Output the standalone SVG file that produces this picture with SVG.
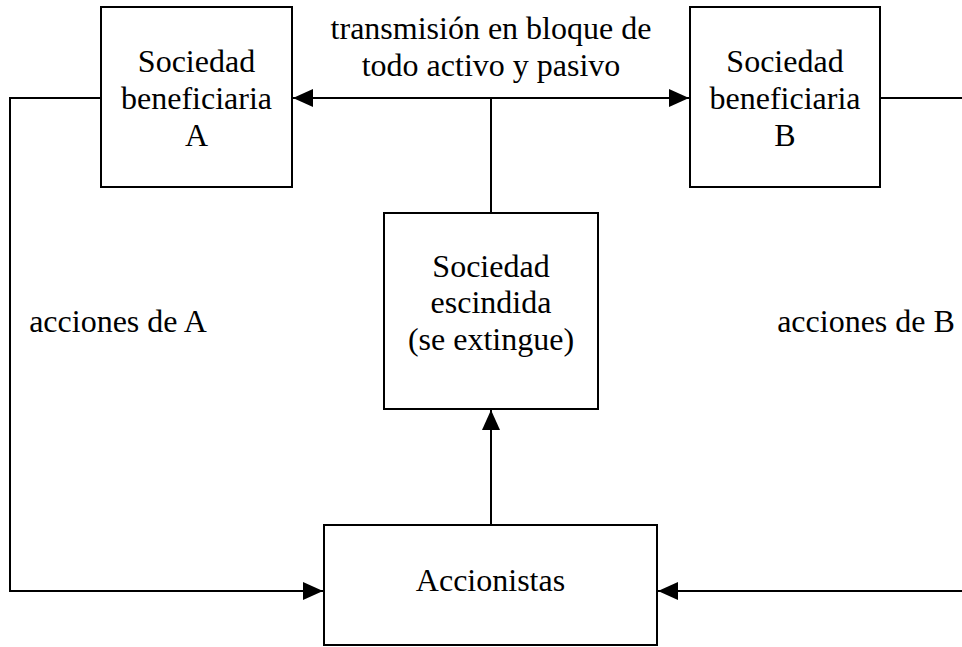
<svg xmlns="http://www.w3.org/2000/svg" width="962" height="647" viewBox="0 0 962 647">
<style>
.box{fill:#fff;stroke:#000;stroke-width:2}
.ln{fill:none;stroke:#000;stroke-width:2}
text{font-family:"Liberation Serif","Times New Roman",serif;font-size:32px;fill:#000;text-anchor:middle}
</style>
<defs>
<marker id="ah" viewBox="0 0 20 18" refX="20" refY="9" markerWidth="20" markerHeight="18" markerUnits="userSpaceOnUse" orient="auto">
<path d="M0,0 L20,9 L0,18 Z" fill="#000"/>
</marker>
</defs>
<g id="connectors">
<line class="ln" x1="491" y1="98" x2="293" y2="98" marker-end="url(#ah)"/>
<line class="ln" x1="491" y1="98" x2="689" y2="98" marker-end="url(#ah)"/>
<line class="ln" x1="491" y1="98" x2="491" y2="213"/>
<line class="ln" x1="491" y1="525" x2="491" y2="410" marker-end="url(#ah)"/>
<polyline class="ln" points="101,98 10,98 10,591 323,591" marker-end="url(#ah)"/>
<polyline class="ln" points="880,98 963,98 963,591 658,591" marker-end="url(#ah)"/>
<text x="491" y="39">transmisión en bloque de</text>
<text x="491" y="76">todo activo y pasivo</text>
<text x="118" y="332">acciones de A</text>
<text x="866" y="332">acciones de B</text>
</g>
<g id="nodeA">
<rect class="box" x="101" y="7" width="191" height="180"/>
<text x="196.5" y="72">Sociedad</text>
<text x="196.5" y="109">beneficiaria</text>
<text x="196.5" y="146">A</text>
</g>
<g id="nodeB">
<rect class="box" x="690" y="7" width="190" height="180"/>
<text x="785" y="72">Sociedad</text>
<text x="785" y="109">beneficiaria</text>
<text x="785" y="146">B</text>
</g>
<g id="nodeEscindida">
<rect class="box" x="384" y="213" width="214" height="196"/>
<text x="491" y="277">Sociedad</text>
<text x="491" y="313">escindida</text>
<text x="491" y="350">(se extingue)</text>
</g>
<g id="nodeAccionistas">
<rect class="box" x="324" y="525" width="333" height="120"/>
<text x="490.5" y="591">Accionistas</text>
</g>
</svg>
